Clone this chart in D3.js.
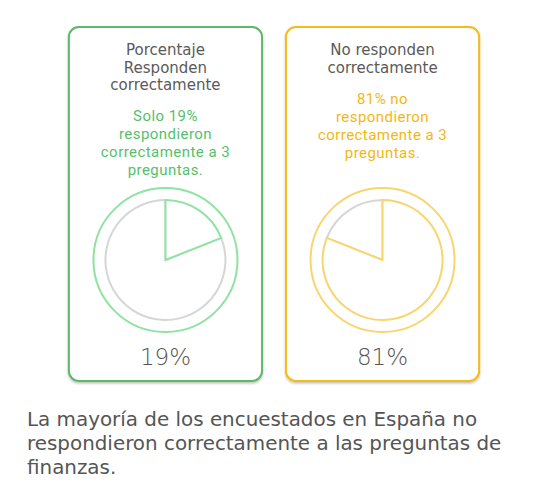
<!DOCTYPE html>
<html>
<head>
<meta charset="utf-8">
<script src="https://cdn.jsdelivr.net/npm/d3@7"></script>
<style>
    body { margin: 0; background: #fff; }
    svg { display: block; }
</style>
</head>
<body>
<div id="chart"></div>
<script>

// data
var categories = ["Responden correctamente", "No responden correctamente"];
var values = [19, 81];
var headerLines = [
    ["Porcentaje", "Responden", "correctamente"],
    ["No responden", "correctamente"]
];
var noteLines = [
    ["Solo 19%", "respondieron", "correctamente a 3", "preguntas."],
    ["81% no", "respondieron", "correctamente a 3", "preguntas."]
];
var captionLines = [
    "La mayoría de los encuestados en España no",
    "respondieron correctamente a las preguntas de",
    "finanzas."
];

var width = 548, height = 489;
var cardColors = ["#5cb96a", "#f5bb14"];
var ringColors = ["#8fe3a2", "#f9d56e"];
var textColors = ["#55bf6d", "#f4b711"];

var svg = d3.select("#chart").append("svg")
    .attr("width", width)
    .attr("height", height);

var defs = svg.append("defs");
var shadow = defs.append("filter").attr("id", "shadow")
    .attr("x", "-10%").attr("y", "-10%").attr("width", "120%").attr("height", "125%");
shadow.append("feDropShadow")
    .attr("dx", 0).attr("dy", 1.5).attr("stdDeviation", 0.8)
    .attr("flood-color", "#000").attr("flood-opacity", 0.25);

var x = d3.scaleBand()
    .domain(categories)
    .range([58, 490])
    .paddingInner(0.11)
    .paddingOuter(0.05);

// slices start at 12 o'clock, the card's own share first
var pie = d3.pie().sort(null).value(function (d) { return d.value; });
var arc = d3.arc().innerRadius(0).outerRadius(60);

var cards = svg.selectAll("g.card")
    .data(categories)
    .enter()
    .append("g")
    .attr("class", "card")
    .attr("transform", function (d) { return "translate(" + x(d) + ",0)"; });

cards.append("rect")
    .attr("x", 0)
    .attr("y", 27)
    .attr("width", x.bandwidth())
    .attr("height", 354)
    .attr("rx", 10)
    .attr("fill", "#fff")
    .attr("stroke", function (d, i) { return cardColors[i]; })
    .attr("stroke-width", 2)
    .attr("filter", "url(#shadow)");

var cx = x.bandwidth() / 2;

cards.each(function (d, i) {
    var g = d3.select(this);

    // header
    g.selectAll("text.header")
        .data(headerLines[i])
        .enter()
        .append("text")
        .attr("class", "header")
        .attr("x", cx)
        .attr("y", function (t, j) { return 55 + j * 17.5; })
        .attr("text-anchor", "middle")
        .style("font-family", "'DejaVu Sans', sans-serif")
        .style("font-size", "15px")
        .attr("fill", "#5a5a5a")
        .text(function (t) { return t; });

    var noteStart = 55 + headerLines[i].length * 17.5 + 13.5;
    g.selectAll("text.note")
        .data(noteLines[i])
        .enter()
        .append("text")
        .attr("class", "note")
        .attr("x", cx)
        .attr("y", function (t, j) { return noteStart + j * 18; })
        .attr("text-anchor", "middle")
        .style("font-family", "Roboto, sans-serif")
        .style("font-size", "15px")
        .style("letter-spacing", "0.45px")
        .attr("fill", textColors[i])
        .text(function (t) { return t; });

    // pie
    var p = g.append("g").attr("transform", "translate(" + cx + ",260)");

    p.append("circle")
        .attr("r", 72)
        .attr("fill", "none")
        .attr("stroke", ringColors[i])
        .attr("stroke-width", 2);

    var own = values[i];
    var rest = d3.sum(values) - own;
    var slices = pie([
        {key: "own", value: own},
        {key: "rest", value: rest}
    ]);

    // grey slice first, highlighted slice on top
    p.selectAll("path")
        .data(slices.slice().reverse())
        .enter()
        .append("path")
        .attr("d", arc)
        .attr("fill", "#fff")
        .attr("stroke", function (s) { return s.data.key === "own" ? ringColors[i] : "#d6d6d6"; })
        .attr("stroke-width", 2)
        .attr("stroke-linejoin", "round");

    g.append("text")
        .attr("x", cx)
        .attr("y", 365)
        .attr("text-anchor", "middle")
        .style("font-family", "'DejaVu Sans', sans-serif")
        .style("font-size", "23px")
        .style("font-weight", 300)
        .attr("fill", "#555")
        .text(values[i] + "%");
});

svg.selectAll("text.caption")
    .data(captionLines)
    .enter()
    .append("text")
    .attr("class", "caption")
    .attr("x", 27)
    .attr("y", function (d, i) { return 426 + i * 24; })
    .style("font-family", "'DejaVu Sans', sans-serif")
    .style("font-size", "19.9px")
    .attr("fill", "#555")
    .text(function (d) { return d; });

</script>
</body>
</html>
